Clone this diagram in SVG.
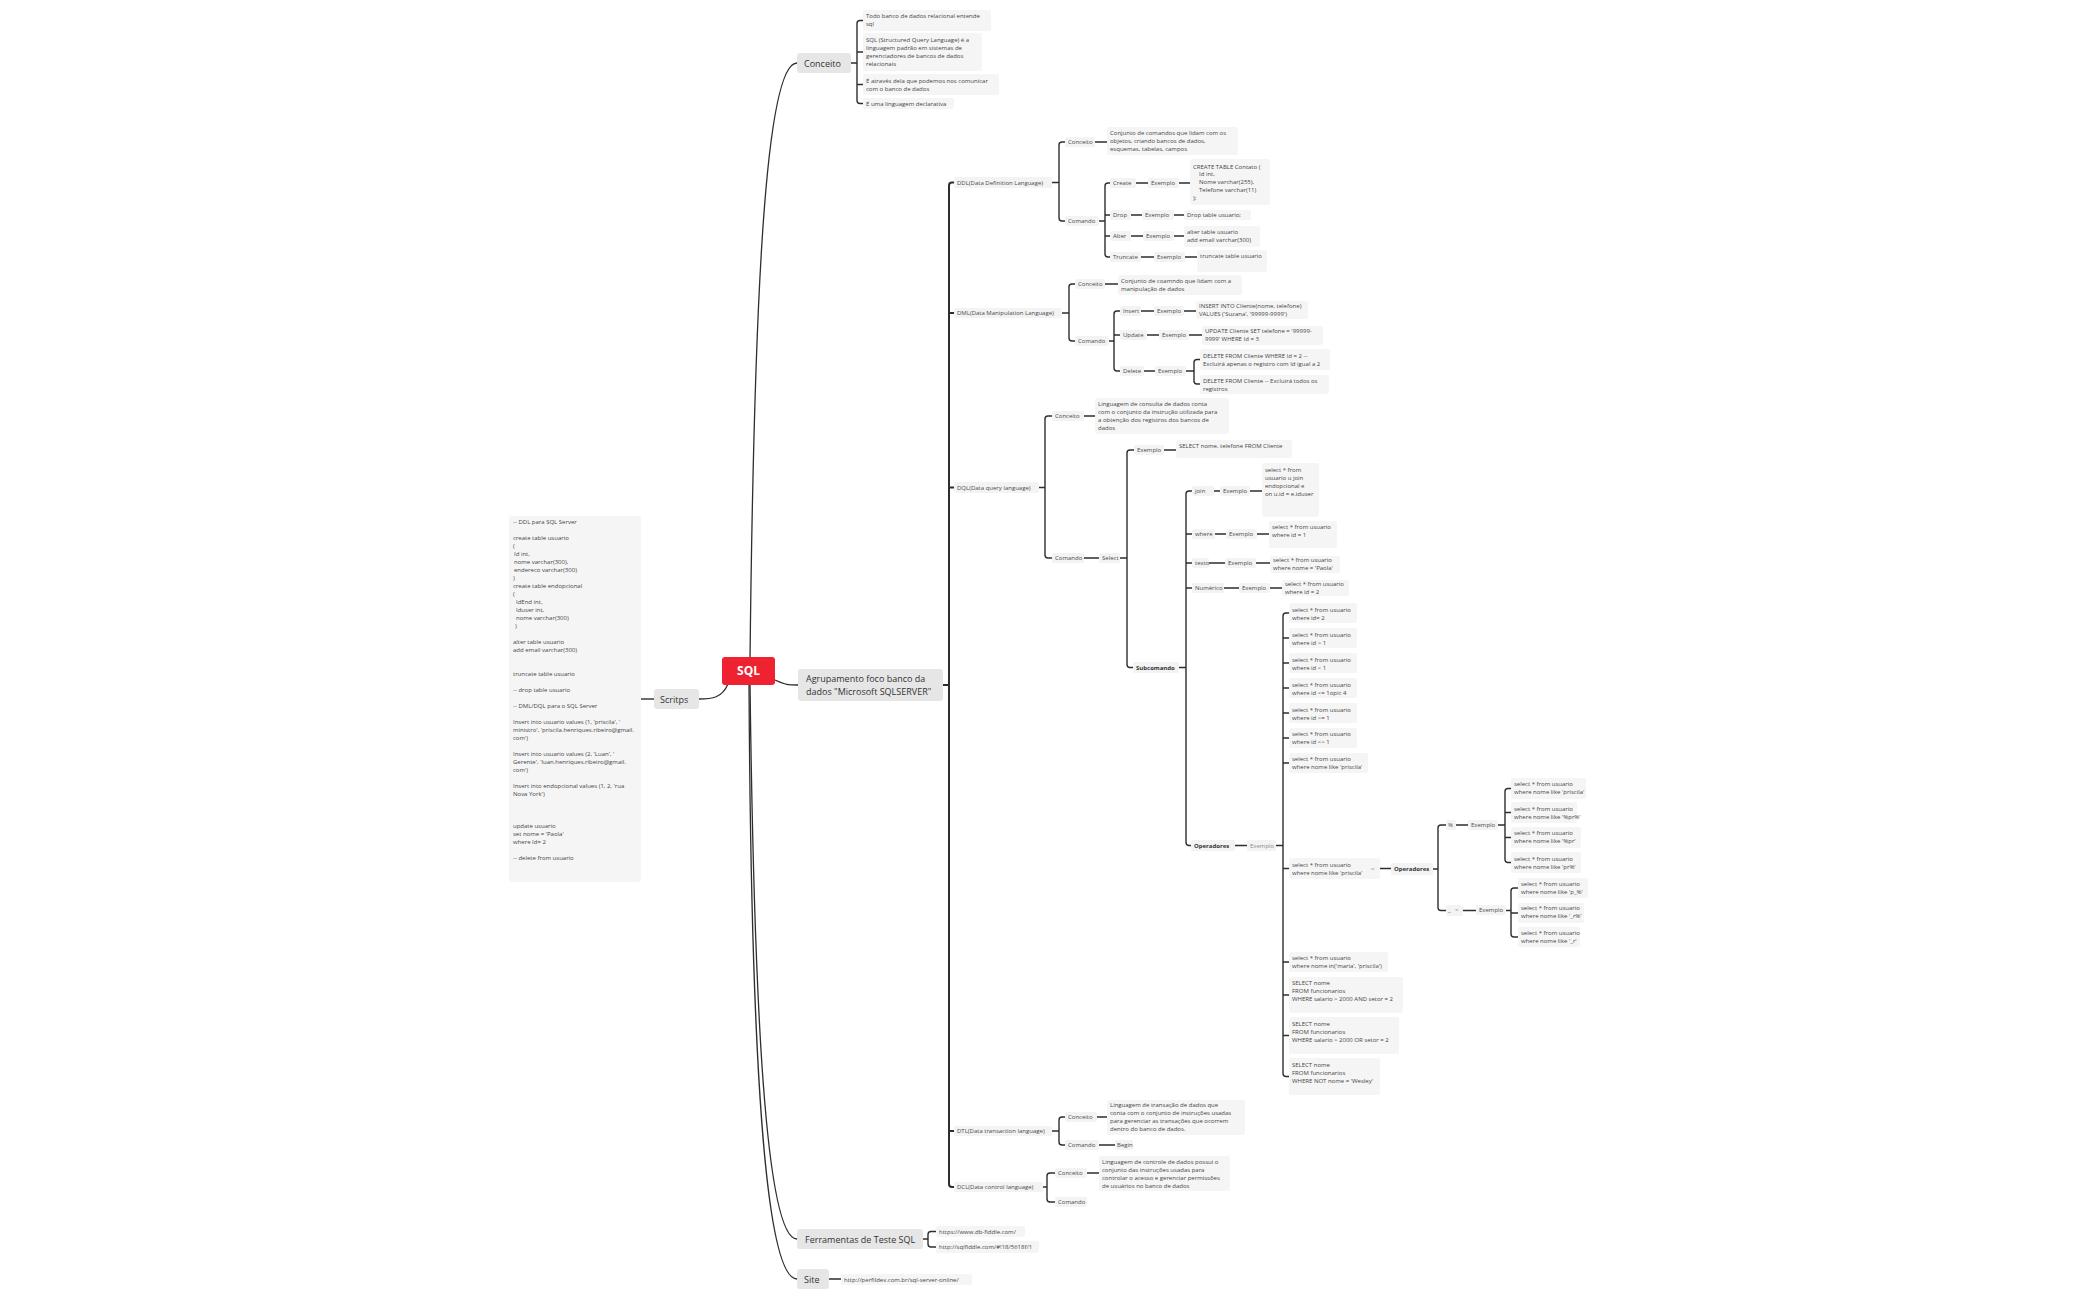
<svg xmlns="http://www.w3.org/2000/svg" width="2100" height="1300" viewBox="0 0 2100 1300">
<style>
.t{font-family:"Open Sans","Noto Sans","DejaVu Sans",sans-serif;font-size:6px;fill:#454545}
.l{font-family:"Open Sans","Noto Sans","DejaVu Sans",sans-serif;font-size:6px;fill:#4a4a4a}
.bd{font-weight:700;fill:#333}
.g{fill:#8a8a8a}
.tp{font-family:"Open Sans","Noto Sans","DejaVu Sans",sans-serif;font-size:9px;fill:#333}
.b{fill:#f5f5f5}
.lb{fill:#f3f3f3}
.tb{fill:#e6e6e6}
.ln{stroke:#2e2e2e;stroke-width:1.4;fill:none;stroke-linejoin:round}
.tr{stroke:#2e2e2e;stroke-width:2;fill:none}
.cv{stroke:#2e2e2e;stroke-width:1.3;fill:none}
</style>
<rect width="2100" height="1300" fill="#ffffff"/>
<g id="connectors">
<path class="cv" d="M750 660C754 300 765 63 797 63"/>
<path class="cv" d="M750 683C754 1000 765 1239 797 1239"/>
<path class="cv" d="M749 683C751 1060 765 1279 797 1279"/>
<path class="cv" d="M775 680C786 685 788 685 798 685"/>
<path class="cv" d="M728 684C722 698 712 699 699 699"/>
<path class="ln" d="M641 699H654"/>
<path class="ln" d="M851 63H857M863 20.5H860Q857 20.5 857 23.5V100.5Q857 103.5 860 103.5H863M857 52H863M857 84.5H863"/>
<path class="tr" d="M943 685H949M954 182.5H952Q949 182.5 949 185.5V1184Q949 1187 952 1187H954M949 313H954M949 487.5H954M949 1131H954"/>
<path class="ln" d="M1052 182.5H1059M1065 142H1062Q1059 142 1059 145V218Q1059 221 1062 221H1065M1095 142H1107"/>
<path class="ln" d="M1099 221H1105M1110 183H1108Q1105 183 1105 186V254Q1105 257 1108 257H1110M1105 215H1110M1105 236H1110"/>
<path class="ln" d="M1136 183H1148M1179 183H1190M1131 215H1142M1174 215H1184M1131 236H1143M1174 236H1184M1141 257H1154M1185 257H1197"/>
<path class="ln" d="M1062 313H1069M1075 284H1072Q1069 284 1069 287V338Q1069 341 1072 341H1075M1105 284H1118"/>
<path class="ln" d="M1109 341H1114M1120 311H1117Q1114 311 1114 314V368Q1114 371 1117 371H1120M1114 335H1120"/>
<path class="ln" d="M1141 311H1154M1184 311H1196M1147 335H1159M1189 335H1202M1144 371H1155M1186 371H1194M1200 359.5H1197Q1194 359.5 1194 362.5V381Q1194 384 1197 384H1200"/>
<path class="ln" d="M1039 487.5H1045M1052 416H1048Q1045 416 1045 419V555Q1045 558 1048 558H1052M1084 416H1095M1084 558H1099"/>
<path class="ln" d="M1120 558H1127M1134 450H1130Q1127 450 1127 453V664.5Q1127 667.5 1130 667.5H1133M1164 450H1176"/>
<path class="ln" d="M1179 667.5H1186M1192 491H1189Q1186 491 1186 494V842.5Q1186 845.5 1189 845.5H1191M1186 534H1192M1186 563H1192M1186 588H1192"/>
<path class="ln" d="M1214 491H1220M1250 491H1262M1215 534H1226M1257 534H1269M1209 563H1225M1256 563H1270M1224 588H1239M1270 588H1282"/>
<path class="ln" d="M1235 845.5H1247M1276 845.5H1283M1289 613H1286Q1283 613 1283 616V1073.5Q1283 1076.5 1286 1076.5H1289M1283 638H1289M1283 663H1289M1283 688H1289M1283 713H1289M1283 738H1289M1283 763H1289M1283 868.5H1289M1283 962H1289M1283 995H1289M1283 1035.5H1289"/>
<path class="ln" d="M1380 868.5H1391M1433 869H1438M1446 825H1441Q1438 825 1438 828V907.5Q1438 910.5 1441 910.5H1446"/>
<path class="ln" d="M1456 825H1468M1498 825H1505M1511 788.5H1508Q1505 788.5 1505 791.5V859.5Q1505 862.5 1508 862.5H1511M1505 812.5H1511M1505 837.5H1511"/>
<path class="ln" d="M1463 910.5H1476M1506 910.5H1511M1518 888H1514Q1511 888 1511 891V934Q1511 937 1514 937H1518M1511 913H1518"/>
<path class="ln" d="M1052 1131H1059M1065 1117H1062Q1059 1117 1059 1120V1142Q1059 1145 1062 1145H1065M1097 1117H1107M1099 1145H1115"/>
<path class="ln" d="M1043 1187H1047M1055 1173H1050Q1047 1173 1047 1176V1199Q1047 1202 1050 1202H1055M1087 1173H1099"/>
<path class="ln" d="M923 1239H928M936 1231.5H931Q928 1231.5 928 1234.5V1244Q928 1247 931 1247H936M829 1279H841"/>
</g>
<g id="root"><rect x="722" y="657" width="53" height="28" rx="3" fill="#ee2231"/><text x="748.5" y="675" text-anchor="middle" font-family="Open Sans, Noto Sans, sans-serif" font-size="12" font-weight="700" fill="#fff">SQL</text></g>
<g id="agrupamento"><rect class="tb" x="798" y="669" width="145" height="32" rx="3"/><text class="tp" x="806" y="682">Agrupamento foco banco da</text><text class="tp" x="806" y="695">dados "Microsoft SQLSERVER"</text></g>
<g id="conceito-top"><rect class="tb" x="797" y="53" width="54" height="20" rx="3"/><text class="tp" x="804" y="66.5">Conceito</text></g>
<g id="scritps"><rect class="tb" x="654" y="689" width="45" height="20" rx="3"/><text class="tp" x="660" y="702.5">Scritps</text></g>
<g id="ferramentas"><rect class="tb" x="797" y="1229" width="126" height="20" rx="3"/><text class="tp" x="805" y="1242.5">Ferramentas de Teste SQL</text></g>
<g id="site"><rect class="tb" x="797" y="1269" width="32" height="20" rx="3"/><text class="tp" x="804" y="1282.5">Site</text></g>

<g id="conceito-notes">
<rect class="b" x="863" y="10" width="128" height="21" rx="2"/><text class="t" x="866" y="18">Todo banco de dados relacional entende</text><text class="t" x="866" y="26">sql</text>
<rect class="b" x="863" y="33" width="119" height="38" rx="2"/><text class="t" x="866" y="42">SQL (Structured Query Language) é a</text><text class="t" x="866" y="50">linguagem padrão em sistemas de</text><text class="t" x="866" y="58">gerenciadores de bancos de dados</text><text class="t" x="866" y="66">relacionais</text>
<rect class="b" x="863" y="74" width="136" height="21" rx="2"/><text class="t" x="866" y="83">É através dela que podemos nos comunicar</text><text class="t" x="866" y="91">com o banco de dados</text>
<rect class="b" x="863" y="98" width="91" height="11" rx="2"/><text class="t" x="866" y="106">É uma linguagem declarativa</text>
</g>

<g id="scripts-note">
<rect class="b" x="509" y="516" width="132" height="366" rx="3"/>
<text class="t" x="513" y="524">-- DDL para SQL Server</text>
<text class="t" x="513" y="540">create table usuario</text>
<text class="t" x="513" y="548">(</text>
<text class="t" x="514" y="556">Id int,</text>
<text class="t" x="514" y="564">nome varchar(300),</text>
<text class="t" x="514" y="572">endereco varchar(300)</text>
<text class="t" x="513" y="580">)</text>
<text class="t" x="513" y="588">create table endopcional</text>
<text class="t" x="513" y="596">(</text>
<text class="t" x="516" y="604">IdEnd int,</text>
<text class="t" x="516" y="612">Iduser int,</text>
<text class="t" x="516" y="620">nome varchar(300)</text>
<text class="t" x="515" y="628">)</text>
<text class="t" x="513" y="644">alter table usuario</text>
<text class="t" x="513" y="652">add email varchar(300)</text>
<text class="t" x="513" y="676">truncate table usuario</text>
<text class="t" x="513" y="692">-- drop table usuario</text>
<text class="t" x="513" y="708">-- DML/DQL para o SQL Server</text>
<text class="t" x="513" y="724">Insert into usuario values (1, 'priscila', '</text>
<text class="t" x="513" y="732">ministro', 'priscila.henriques.ribeiro@gmail.</text>
<text class="t" x="513" y="740">com')</text>
<text class="t" x="513" y="756">Insert into usuario values (2, 'Luan', '</text>
<text class="t" x="513" y="764">Gerente', 'luan.henriques.ribeiro@gmail.</text>
<text class="t" x="513" y="772">com')</text>
<text class="t" x="513" y="788">Insert into endopcional values (1, 2, 'rua</text>
<text class="t" x="513" y="796">Nova York')</text>
<text class="t" x="513" y="828">update usuario</text>
<text class="t" x="513" y="836">set nome = 'Paola'</text>
<text class="t" x="513" y="844">where Id= 2</text>
<text class="t" x="513" y="860">-- delete from usuario</text>
</g>

<g id="ddl">
<rect class="lb" x="954" y="177" width="98" height="11" rx="2"/><text class="l" x="957" y="184.5">DDL(Data Definition Language)</text>
<rect class="lb" x="1065" y="137" width="30" height="10" rx="2"/><text class="l" x="1068" y="144">Conceito</text>
<rect class="b" x="1107" y="127" width="131" height="28" rx="2"/><text class="t" x="1110" y="135">Conjunto de comandos que lidam com os</text><text class="t" x="1110" y="143">objetos, criando bancos de dados,</text><text class="t" x="1110" y="151">esquemas, tabelas, campos</text>
<rect class="lb" x="1065" y="216" width="34" height="10" rx="2"/><text class="l" x="1068" y="223">Comando</text>
<rect class="lb" x="1110" y="178" width="26" height="10" rx="2"/><text class="l" x="1113" y="185">Create</text>
<rect class="lb" x="1148" y="178" width="31" height="10" rx="2"/><text class="l" x="1151" y="185">Exemplo</text>
<rect class="b" x="1190" y="159" width="80" height="46" rx="2"/><text class="t" x="1193" y="169">CREATE TABLE Contato (</text><text class="t" x="1199" y="176">Id int,</text><text class="t" x="1199" y="184">Nome varchar(255),</text><text class="t" x="1199" y="192">Telefone varchar(11)</text><text class="t" x="1193" y="200">);</text>
<rect class="lb" x="1110" y="210" width="21" height="10" rx="2"/><text class="l" x="1113" y="217">Drop</text>
<rect class="lb" x="1142" y="210" width="32" height="10" rx="2"/><text class="l" x="1145" y="217">Exemplo</text>
<rect class="b" x="1184" y="210" width="67" height="10" rx="2"/><text class="t" x="1187" y="217">Drop table  usuario;</text>
<rect class="lb" x="1110" y="231" width="21" height="10" rx="2"/><text class="l" x="1113" y="238">Alter</text>
<rect class="lb" x="1143" y="231" width="31" height="10" rx="2"/><text class="l" x="1146" y="238">Exemplo</text>
<rect class="b" x="1184" y="226" width="76" height="21" rx="2"/><text class="t" x="1187" y="234">alter table usuario</text><text class="t" x="1187" y="242">add email varchar(300)</text>
<rect class="lb" x="1110" y="252" width="31" height="10" rx="2"/><text class="l" x="1113" y="259">Truncate</text>
<rect class="lb" x="1154" y="252" width="31" height="10" rx="2"/><text class="l" x="1157" y="259">Exemplo</text>
<rect class="b" x="1197" y="250" width="70" height="22" rx="2"/><text class="t" x="1200" y="258">truncate table usuario</text>
</g>

<g id="dml">
<rect class="lb" x="954" y="308" width="108" height="10" rx="2"/><text class="l" x="957" y="315">DML(Data Manipulation Language)</text>
<rect class="lb" x="1075" y="279" width="30" height="10" rx="2"/><text class="l" x="1078" y="286">Conceito</text>
<rect class="b" x="1118" y="275" width="124" height="20" rx="2"/><text class="t" x="1121" y="283">Conjunto de coamndo que lidam com a</text><text class="t" x="1121" y="291">manipulação de dados</text>
<rect class="lb" x="1075" y="336" width="34" height="10" rx="2"/><text class="l" x="1078" y="343">Comando</text>
<rect class="lb" x="1120" y="306" width="21" height="10" rx="2"/><text class="l" x="1123" y="313">Insert</text>
<rect class="lb" x="1154" y="306" width="30" height="10" rx="2"/><text class="l" x="1157" y="313">Exemplo</text>
<rect class="b" x="1196" y="301" width="112" height="18" rx="2"/><text class="t" x="1199" y="308">INSERT INTO Cliente(nome, telefone)</text><text class="t" x="1199" y="316">VALUES ('Suzana', '99999-9999')</text>
<rect class="lb" x="1120" y="330" width="27" height="10" rx="2"/><text class="l" x="1123" y="337">Update</text>
<rect class="lb" x="1159" y="330" width="30" height="10" rx="2"/><text class="l" x="1162" y="337">Exemplo</text>
<rect class="b" x="1202" y="326" width="121" height="19" rx="2"/><text class="t" x="1205" y="333">UPDATE Cliente SET telefone = '99999-</text><text class="t" x="1205" y="341">9999' WHERE Id = 3</text>
<rect class="lb" x="1120" y="366" width="24" height="10" rx="2"/><text class="l" x="1123" y="373">Delete</text>
<rect class="lb" x="1155" y="366" width="31" height="10" rx="2"/><text class="l" x="1158" y="373">Exemplo</text>
<rect class="b" x="1200" y="349" width="130" height="21" rx="2"/><text class="t" x="1203" y="358">DELETE FROM Cliente WHERE Id = 2 --</text><text class="t" x="1203" y="366">Excluirá apenas o registro com Id igual a 2</text>
<rect class="b" x="1200" y="375" width="129" height="19" rx="2"/><text class="t" x="1203" y="383">DELETE FROM Cliente -- Excluirá todos os</text><text class="t" x="1203" y="391">registros</text>
</g>

<g id="dql">
<rect class="lb" x="954" y="482" width="85" height="11" rx="2"/><text class="l" x="957" y="489.5">DQL(Data query language)</text>
<rect class="lb" x="1052" y="411" width="32" height="10" rx="2"/><text class="l" x="1055" y="418">Conceito</text>
<rect class="b" x="1095" y="398" width="134" height="36" rx="2"/><text class="t" x="1098" y="406">Linguagem de consulta de dados conta</text><text class="t" x="1098" y="414">com o conjunto da instrução utilizada para</text><text class="t" x="1098" y="422">a obtenção dos registros dos bancos de</text><text class="t" x="1098" y="430">dados</text>
<rect class="lb" x="1052" y="553" width="32" height="10" rx="2"/><text class="l" x="1055" y="560">Comando</text>
<rect class="lb" x="1099" y="553" width="21" height="10" rx="2"/><text class="l" x="1102" y="560">Select</text>
<rect class="lb" x="1134" y="445" width="30" height="10" rx="2"/><text class="l" x="1137" y="452">Exemplo</text>
<rect class="b" x="1176" y="440" width="116" height="18" rx="2"/><text class="t" x="1179" y="448">SELECT nome, telefone FROM Cliente</text>
<rect class="lb" x="1133" y="662" width="46" height="11" rx="2"/><text class="l bd" x="1136" y="669.5">Subcomando</text>
<rect class="lb" x="1192" y="486" width="22" height="10" rx="2"/><text class="l" x="1195" y="493">join</text>
<rect class="lb" x="1220" y="486" width="30" height="10" rx="2"/><text class="l" x="1223" y="493">Exemplo</text>
<rect class="b" x="1262" y="463" width="57" height="54" rx="2"/><text class="t" x="1265" y="472">select * from</text><text class="t" x="1265" y="480">usuario u join</text><text class="t" x="1265" y="488">endopcional e</text><text class="t" x="1265" y="496">on u.id = e.iduser</text>
<rect class="lb" x="1192" y="529" width="23" height="10" rx="2"/><text class="l" x="1195" y="536">where</text>
<rect class="lb" x="1226" y="529" width="31" height="10" rx="2"/><text class="l" x="1229" y="536">Exemplo</text>
<rect class="b" x="1269" y="521" width="68" height="27" rx="2"/><text class="t" x="1272" y="529">select * from usuario</text><text class="t" x="1272" y="537">where id = 1</text>
<rect class="lb" x="1192" y="558" width="17" height="10" rx="2"/><text class="l" x="1195" y="565">texto</text>
<rect class="lb" x="1225" y="558" width="31" height="10" rx="2"/><text class="l" x="1228" y="565">Exemplo</text>
<rect class="b" x="1270" y="556" width="70" height="17" rx="2"/><text class="t" x="1273" y="562">select * from usuario</text><text class="t" x="1273" y="570">where nome = 'Paola'</text>
<rect class="lb" x="1192" y="583" width="32" height="10" rx="2"/><text class="l" x="1195" y="590">Numérico</text>
<rect class="lb" x="1239" y="583" width="31" height="10" rx="2"/><text class="l" x="1242" y="590">Exemplo</text>
<rect class="b" x="1282" y="580" width="67" height="16" rx="2"/><text class="t" x="1285" y="586">select * from usuario</text><text class="t" x="1285" y="594">where id = 2</text>
<rect class="lb" x="1191" y="840" width="44" height="11" rx="2"/><text class="l bd" x="1194" y="847.5">Operadores</text>
<rect class="lb" x="1247" y="840" width="29" height="11" rx="2"/><text class="l g" x="1250" y="847.5">Exemplo</text>
</g>

<g id="operadores-exemplos">
<rect class="b" x="1289" y="603" width="68" height="20" rx="2"/><text class="t" x="1292" y="612">select * from usuario</text><text class="t" x="1292" y="620">where id= 2</text>
<rect class="b" x="1289" y="628" width="68" height="20" rx="2"/><text class="t" x="1292" y="637">select * from usuario</text><text class="t" x="1292" y="645">where id &gt; 1</text>
<rect class="b" x="1289" y="653" width="68" height="20" rx="2"/><text class="t" x="1292" y="662">select * from usuario</text><text class="t" x="1292" y="670">where id &lt; 1</text>
<rect class="b" x="1289" y="678" width="68" height="20" rx="2"/><text class="t" x="1292" y="687">select * from usuario</text><text class="t" x="1292" y="695">where id &lt;= 1opic 4</text>
<rect class="b" x="1289" y="703" width="68" height="20" rx="2"/><text class="t" x="1292" y="712">select * from usuario</text><text class="t" x="1292" y="720">where id &gt;= 1</text>
<rect class="b" x="1289" y="728" width="68" height="20" rx="2"/><text class="t" x="1292" y="736">select * from usuario</text><text class="t" x="1292" y="744">where id &lt;&gt; 1</text>
<rect class="b" x="1289" y="753" width="79" height="20" rx="2"/><text class="t" x="1292" y="761">select * from usuario</text><text class="t" x="1292" y="769">where nome like 'priscila'</text>
<rect class="b" x="1289" y="858" width="91" height="21" rx="2"/><text class="t" x="1292" y="867">select * from usuario</text><text class="t" x="1292" y="875">where nome like 'priscila'</text><text class="t" x="1371" y="871" style="fill:#aaa">=</text>
<rect class="b" x="1289" y="952" width="99" height="20" rx="2"/><text class="t" x="1292" y="960">select * from usuario</text><text class="t" x="1292" y="968">where nome in('maria', 'priscila')</text>
<rect class="b" x="1289" y="977" width="114" height="36" rx="2"/><text class="t" x="1292" y="985">SELECT nome</text><text class="t" x="1292" y="993">FROM  funcionarios</text><text class="t" x="1292" y="1001">WHERE salario &gt; 2000 AND setor = 2</text>
<rect class="b" x="1289" y="1017" width="110" height="37" rx="2"/><text class="t" x="1292" y="1026">SELECT nome</text><text class="t" x="1292" y="1034">FROM  funcionarios</text><text class="t" x="1292" y="1042">WHERE salario &gt; 2000 OR setor = 2</text>
<rect class="b" x="1289" y="1058" width="91" height="37" rx="2"/><text class="t" x="1292" y="1067">SELECT nome</text><text class="t" x="1292" y="1075">FROM funcionarios</text><text class="t" x="1292" y="1083">WHERE NOT nome = 'Wesley'</text>
</g>

<g id="operadores-like">
<rect class="lb" x="1391" y="863" width="42" height="12" rx="2"/><text class="l bd" x="1394" y="871">Operadores</text>
<rect class="lb" x="1446" y="820" width="10" height="10" rx="2"/><text class="l" x="1448" y="827">%</text>
<rect class="lb" x="1468" y="820" width="30" height="10" rx="2"/><text class="l" x="1471" y="827">Exemplo</text>
<rect class="b" x="1511" y="778" width="75" height="21" rx="2"/><text class="t" x="1514" y="786">select * from usuario</text><text class="t" x="1514" y="794">where nome like 'priscila'</text>
<rect class="b" x="1511" y="802" width="66" height="21" rx="2"/><text class="t" x="1514" y="811">select * from usuario</text><text class="t" x="1514" y="819">where nome like '%pr%'</text>
<rect class="b" x="1511" y="827" width="70" height="21" rx="2"/><text class="t" x="1514" y="835">select * from usuario</text><text class="t" x="1514" y="843">where nome like '%pr'</text>
<rect class="b" x="1511" y="852" width="70" height="21" rx="2"/><text class="t" x="1514" y="861">select * from usuario</text><text class="t" x="1514" y="869">where nome like 'pr%'</text>
<rect class="lb" x="1446" y="905" width="17" height="11" rx="2"/><text class="l" x="1448" y="912">_</text><text class="t" x="1455" y="912" style="fill:#aaa">=</text>
<rect class="lb" x="1476" y="905" width="30" height="10" rx="2"/><text class="l" x="1479" y="912">Exemplo</text>
<rect class="b" x="1518" y="878" width="70" height="20" rx="2"/><text class="t" x="1521" y="886">select * from usuario</text><text class="t" x="1521" y="894">where nome like 'p_%'</text>
<rect class="b" x="1518" y="903" width="66" height="20" rx="2"/><text class="t" x="1521" y="910">select * from usuario</text><text class="t" x="1521" y="918">where nome like '_r%'</text>
<rect class="b" x="1518" y="927" width="62" height="20" rx="2"/><text class="t" x="1521" y="935">select * from usuario</text><text class="t" x="1521" y="943">where nome like '_r'</text>
</g>

<g id="dtl">
<rect class="lb" x="954" y="1126" width="98" height="10" rx="2"/><text class="l" x="957" y="1133">DTL(Data transaction language)</text>
<rect class="lb" x="1065" y="1112" width="32" height="10" rx="2"/><text class="l" x="1068" y="1119">Conceito</text>
<rect class="b" x="1107" y="1100" width="138" height="35" rx="2"/><text class="t" x="1110" y="1107"> Linguagem de transação de dados que</text><text class="t" x="1110" y="1115">conta com o conjunto de instruções usadas</text><text class="t" x="1110" y="1123">para gerenciar as transações que ocorrem</text><text class="t" x="1110" y="1131">dentro do banco de dados.</text>
<rect class="lb" x="1065" y="1140" width="34" height="10" rx="2"/><text class="l" x="1068" y="1147">Comando</text>
<rect class="lb" x="1115" y="1140" width="18" height="10" rx="2"/><text class="l" x="1117" y="1147">Begin</text>
</g>

<g id="dcl">
<rect class="lb" x="954" y="1182" width="89" height="10" rx="2"/><text class="l" x="957" y="1189">DCL(Data control language)</text>
<rect class="lb" x="1055" y="1168" width="32" height="10" rx="2"/><text class="l" x="1058" y="1175">Conceito</text>
<rect class="b" x="1099" y="1156" width="131" height="35" rx="2"/><text class="t" x="1102" y="1164">Linguagem de controle de dados possui o</text><text class="t" x="1102" y="1172">conjunto das instruções usadas para</text><text class="t" x="1102" y="1180">controlar o acesso e gerenciar permissões</text><text class="t" x="1102" y="1188">de usuários no banco de dados</text>
<rect class="lb" x="1055" y="1197" width="32" height="10" rx="2"/><text class="l" x="1058" y="1204">Comando</text>
</g>

<g id="links">
<rect class="b" x="936" y="1226" width="89" height="11" rx="2"/><text class="t" x="939" y="1233.5">https://www.db-fiddle.com/</text>
<rect class="b" x="936" y="1241" width="103" height="12" rx="2"/><text class="t" x="939" y="1249">http://sqlfiddle.com/#!18/5618f/1</text>
<rect class="b" x="841" y="1274" width="131" height="11" rx="2"/><text class="t" x="844" y="1281.5">http://perfildev.com.br/sql-server-online/</text>
</g>
</svg>
